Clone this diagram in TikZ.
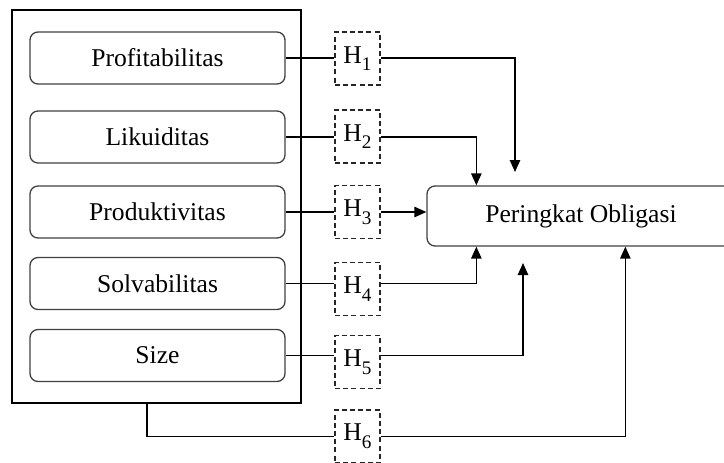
\documentclass[tikz,border=0pt]{standalone}
\usepackage{fontspec}
\setmainfont{Liberation Serif}
\usetikzlibrary{arrows.meta}
\begin{document}
\begin{tikzpicture}[x=0.5pt,y=-0.5pt,
  txt/.style={font=\fontsize{12.8}{15}\selectfont},
  varbox/.style={txt,draw=black!75,line width=0.65pt,rounded corners=4pt,minimum width=127.5pt,minimum height=26pt,inner sep=0pt},
  hyp/.style={txt,draw=black!85,line width=0.6pt,dash pattern=on 2.5pt off 1.6pt,minimum width=22.5pt,minimum height=26.5pt,inner sep=0pt},
  conn/.style={line width=0.7pt,black},
  arr/.style={conn,-{Triangle[length=6pt,width=5.2pt]}}]
\useasboundingbox (0,0) rectangle (724,462);
\clip (0,0) rectangle (724,462);
\node[draw=black,line width=0.65pt,minimum width=144.5pt,minimum height=196.5pt,inner sep=0pt] (outer) at (156.5,206.5) {};
\node[varbox] (p1) at (157.5,58) {Profitabilitas};
\node[varbox] (p2) at (157.5,137) {Likuiditas};
\node[varbox] (p3) at (157.5,212) {Produktivitas};
\node[varbox] (p4) at (157.5,283.5) {Solvabilitas};
\node[varbox] (p5) at (157.5,355.5) {Size};
\newcommand{\hsub}[1]{H\raisebox{-0.3em}{\fontsize{9.6}{10}\selectfont #1}}
\node[hyp] (h1) at (357.5,58.5) {\hsub{1}};
\node[hyp] (h2) at (357.5,136.5) {\hsub{2}};
\node[hyp] (h3) at (357.5,212) {\hsub{3}};
\node[hyp] (h4) at (357.5,289) {\hsub{4}};
\node[hyp] (h5) at (357.5,362) {\hsub{5}};
\node[hyp] (h6) at (357.5,436.5) {\hsub{6}};
\node[txt,draw=black!75,line width=0.65pt,rounded corners=4pt,minimum width=154pt,minimum height=30pt,inner sep=0pt] (po) at (581,216) {Peringkat Obligasi};
\coordinate (a1) at (515,172);
\coordinate (a5) at (523,263);
\coordinate (b6) at ([xshift=-4.75pt]outer.south);
% H1
\draw[conn] (p1.east) -- (p1.east -| h1.west);
\draw[arr] (h1.east |- p1.east) -| (a1);
% H2
\draw[conn] (p2.east) -- (p2.east -| h2.west);
\draw[arr] (h2.east |- p2.east) -| ([xshift=25pt]po.north west);
% H3
\draw[conn] (p3.east) -- (p3.east -| h3.west);
\draw[arr] (h3.east |- p3.east) -- (p3.east -| po.west);
% H4
\draw[conn] (p4.east) -- (p4.east -| h4.west);
\draw[arr] (h4.east |- p4.east) -| ([xshift=25pt]po.south west);
% H5
\draw[conn] (p5.east) -- (p5.east -| h5.west);
\draw[arr] (h5.east |- p5.east) -| (a5);
% H6
\draw[conn] (b6) |- (h6.west);
\draw[arr] (h6.east) -| ([xshift=99.5pt]po.south west);
\end{tikzpicture}
\end{document}
